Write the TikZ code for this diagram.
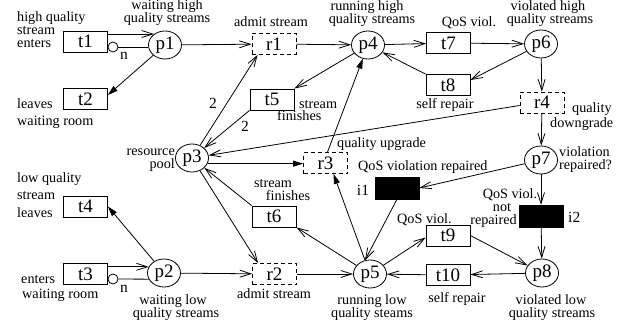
\documentclass[tikz,border=0pt]{standalone}
\usepackage{fontspec}
\setmainfont{Liberation Serif}
\usetikzlibrary{arrows.meta,shapes.geometric}
\begin{document}
\begin{tikzpicture}[x=1pt,y=-1pt,
 pl/.style={draw, ellipse, minimum width=33pt, minimum height=28pt, inner sep=0pt, font=\fontsize{19}{19}\selectfont, line width=0.8pt},
 tr/.style={draw, rectangle, minimum width=44pt, minimum height=21pt, inner sep=0pt, font=\fontsize{19}{19}\selectfont, line width=0.8pt},
 rt/.style={tr, dash pattern=on 4pt off 3pt},
 im/.style={draw, fill=black, minimum width=44pt, minimum height=22pt, inner sep=0pt},
 inh/.style={draw, circle, minimum size=10pt, inner sep=0pt, line width=0.8pt},
 lbl/.style={font=\fontsize{14.2}{13}\selectfont, inner sep=0pt},
 sml/.style={font=\fontsize{15.5}{15}\selectfont, inner sep=0pt},
 ar/.style={line width=0.8pt, -{Straight Barb[length=11pt,width=7pt]}},
 af/.style={line width=0.8pt, -{Triangle[length=10pt,width=6pt]}},
 ln/.style={line width=0.8pt}]
\useasboundingbox (0,0) rectangle (636,326);
% places
\node[pl] (p1) at (165,45) {p1};
\node[pl] (p2) at (164,273) {p2};
\node[pl] (p3) at (192,158) {p3};
\node[pl] (p4) at (368,45) {p4};
\node[pl] (p5) at (370,274) {p5};
\node[pl] (p6) at (541,44) {p6};
\node[pl] (p7) at (541,160) {p7};
\node[pl] (p8) at (542,273) {p8};
% transitions
\node[tr] (t1) at (85.5,41.5) {t1};
\node[tr] (t2) at (85.5,99) {t2};
\node[tr] (t3) at (85.5,274) {t3};
\node[tr] (t4) at (85.5,206.5) {t4};
\node[tr] (t5) at (272,99.5) {t5};
\node[tr] (t6) at (274,216.5) {t6};
\node[tr] (t7) at (448.5,43) {t7};
\node[tr] (t8) at (448,85) {t8};
\node[tr] (t9) at (448,235.5) {t9};
\node[tr] (t10) at (448,275) {t10};
\node[rt] (r1) at (274,44) {r1};
\node[rt] (r2) at (274.5,274) {r2};
\node[rt] (r3) at (325.5,163) {r3};
\node[rt] (r4) at (542,102.5) {r4};
\node[im] (i1) at (397,188) {};
\node[im] (i2) at (541,216) {};
\node[inh] (ih1) at (113,47) {};
\node[inh] (ih2) at (113,279) {};
% labels
\node[lbl,anchor=base west] (L1a) at (17,22) {high quality};
\node[lbl,anchor=base west] (L1b) at (17,35) {stream};
\node[lbl,anchor=base west] (L1c) at (17,48) {enters};
\node[lbl,anchor=base west] (L2a) at (17,108) {leaves};
\node[lbl,anchor=base west] (L2b) at (17,125) {waiting room};
\node[lbl,anchor=base] (Lp1a) at (167,10) {waiting high};
\node[lbl,anchor=base] (Lp1b) at (167,23) {quality streams};
\node[sml,anchor=base] (Ln1) at (124,60) {n};
\node[lbl,anchor=base] (Lr1) at (271,27) {admit stream};
\node[lbl,anchor=base] (Lp4a) at (367,10.5) {running high};
\node[lbl,anchor=base] (Lp4b) at (372,23.5) {quality streams};
\node[lbl,anchor=base west] (Lt5a) at (299,108) {stream};
\node[lbl,anchor=base west] (Lt5b) at (277,121) {finishes};
\node[lbl,anchor=base] (Lt7) at (469,27) {QoS viol.};
\node[lbl,anchor=base] (Lp6a) at (548,11) {violated high};
\node[lbl,anchor=base] (Lp6b) at (550,24) {quality streams};
\node[lbl,anchor=base] (Lt8) at (445,108) {self repair};
\node[lbl,anchor=base west] (Lr4a) at (572,113) {quality};
\node[lbl,anchor=base west] (Lr4b) at (550,128) {downgrade};
\node[lbl,anchor=base east] (Lp3a) at (175,155.5) {resource};
\node[lbl,anchor=base east] (Lp3b) at (175,168.5) {pool};
\node[sml,anchor=base] (Lw1) at (213,108) {2};
\node[sml,anchor=base] (Lw2) at (245,131) {2};
\node[lbl,anchor=base west] (Lr3) at (337,147) {quality upgrade};
\node[lbl,anchor=base west] (Lp7a) at (559,156.5) {violation};
\node[lbl,anchor=base west] (Lp7b) at (559,169.5) {repaired?};
\node[lbl,anchor=base west] (Li1t) at (358,170) {QoS violation repaired};
\node[sml,anchor=base] (Li1) at (363,195) {i1};
\node[lbl,anchor=base] (Lt6a) at (273,187.5) {stream};
\node[lbl,anchor=base] (Lt6b) at (288,200.5) {finishes};
\node[lbl,anchor=base west] (Lt4a) at (17,182) {low quality};
\node[lbl,anchor=base west] (Lt4b) at (17,199) {stream};
\node[lbl,anchor=base west] (Lt4c) at (17,217) {leaves};
\node[lbl,anchor=base] (Li2a) at (510,198) {QoS viol.};
\node[lbl,anchor=base] (Li2b) at (502,211) {not};
\node[lbl,anchor=base east] (Li2c) at (517,224) {repaired};
\node[sml,anchor=base west] (Li2) at (568,222) {i2};
\node[lbl,anchor=base west] (Lt9) at (397,223) {QoS viol.};
\node[lbl,anchor=base west] (Lt3a) at (21,283) {enters};
\node[lbl,anchor=base west] (Lt3b) at (22,298) {waiting room};
\node[sml,anchor=base] (Ln2) at (124,292) {n};
\node[lbl,anchor=base] (Lp2a) at (173,304.5) {waiting low};
\node[lbl,anchor=base] (Lp2b) at (176,317.5) {quality streams};
\node[lbl,anchor=base] (Lr2) at (274,298) {admit stream};
\node[lbl,anchor=base] (Lp5a) at (372,304.5) {running low};
\node[lbl,anchor=base] (Lp5b) at (372,317.5) {quality steams};
\node[lbl,anchor=base] (Lt10) at (457,302) {self repair};
\node[lbl,anchor=base] (Lp8a) at (551,304.5) {violated low};
\node[lbl,anchor=base] (Lp8b) at (552,317.5) {quality streams};
% connectors
\draw[ar] (t1.east |- p1.135) -- (p1.135);
\draw[ln] (ih1) -- (p1.west |- ih1);
\draw[af] (p1) -- ([yshift=4pt]t2.east);
\draw[ar] (p1) -- (r1);
\draw[ar] (r1) -- (p4);
\draw[ar] (p4) -- (t7);
\draw[ar] (t7) -- (p6);
\draw[ar] (p6) -- ([yshift=5pt]t8.east);
\draw[ar] (t8.north west) -- (p4);
\draw[ar] (p4) -- (t5.north east);
\draw[ar] (t5.south west) -- (p3);
\draw[ar] (p3) -- ([xshift=6pt]r1.south west);
\draw[ar] (p6) -- (r4);
\draw[ar] (r4) -- (p7);
\draw[ar] ([yshift=-3pt]r4.west) -- (p3);
\draw[af] (p3.-20) -- (r3.west |- p3.-20);
\draw[af] ([xshift=2pt]r3.north) -- (p4);
\draw[af] (p5) -- ([xshift=8pt]r3.south);
\draw[ar] (t6.north west) -- (p3);
\draw[ar] (p5) -- (t6.south east);
\draw[ar] (p3) -- ([xshift=6pt]r2.north west);
\draw[ar] (p2) -- (r2);
\draw[ar] (r2) -- (p5);
\draw[ar] (t3.east |- p2.158) -- (p2.158);
\draw[ln] (ih2) -- (p2.202);
\draw[af] (p2) -- (t4.east);
\draw[ar] (p5) -- ([yshift=-2pt]t9.west);
\draw[ar] (t9.east) -- (p8);
\draw[ar] (p8) -- (t10);
\draw[ar] (t10) -- (p5);
\draw[ar] (i1.south) -- (p5.110);
\draw[ar] (p7) -- (i1.east);
\draw[ar] (p7) -- (i2);
\draw[ar] (i2) -- (p8);
\end{tikzpicture}
\end{document}
